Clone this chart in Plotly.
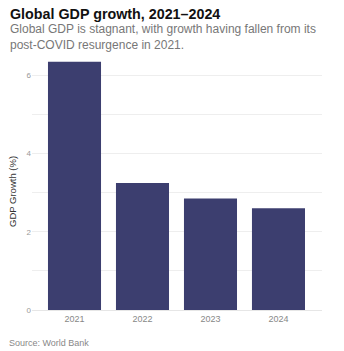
import plotly.graph_objects as go

years = ["2021", "2022", "2023", "2024"]
growth = [6.35, 3.25, 2.85, 2.6]
ytick_vals = [0, 1, 2, 3, 4, 5, 6]
ytick_text = ["0", "", "2", "", "4", "", "6"]

fig = go.Figure(go.Bar(x=years, y=growth, marker_color="#3c3e6f", marker_line_width=0))

fig.update_layout(
    width=344, height=351,
    margin=dict(l=32, r=22, t=52, b=41),
    paper_bgcolor="white", plot_bgcolor="white",
    font=dict(family="Liberation Sans, Arial, sans-serif", color="#888"),
    bargap=0.22,
    showlegend=False,
)
fig.update_xaxes(
    type="category", range=[-0.625, 3.64],
    showgrid=False, showline=True, linecolor="#e6e6e6", linewidth=1,
    ticks="", ticklen=4, tickcolor="white", tickfont=dict(size=9, color="#888"),
)
fig.update_yaxes(
    range=[0, 6.6], tickvals=ytick_vals, ticktext=ytick_text,
    showgrid=True, gridcolor="#eeeeee", gridwidth=1, zeroline=False,
    ticks="", tickfont=dict(size=8, color="#999"),
)
fig.add_annotation(text="GDP Growth (%)", xref="paper", yref="paper",
                   x=(12 - 32) / 290, y=(310 - 192) / 258, textangle=-90,
                   xanchor="center", yanchor="middle", showarrow=False,
                   font=dict(size=9.5, color="#333"))
fig.add_annotation(text="<b>Global GDP growth, 2021–2024</b>", xref="paper", yref="paper",
                   x=(8 - 32) / 290, y=1, yshift=52 - 4, xanchor="left", yanchor="top",
                   showarrow=False, font=dict(size=14.3, color="#111"))
fig.add_annotation(text="Global GDP is stagnant, with growth having fallen from its<br>post-COVID resurgence in 2021.",
                   xref="paper", yref="paper", x=(8 - 32) / 290, y=1, yshift=52 - 20,
                   xanchor="left", yanchor="top", align="left", showarrow=False,
                   font=dict(size=12, color="#777"))
fig.add_annotation(text="Source: World Bank", xref="paper", yref="paper",
                   x=(7 - 32) / 290, y=0, yshift=-26, xanchor="left", yanchor="top",
                   showarrow=False, font=dict(size=9, color="#888"))

fig.write_html("out.html")
